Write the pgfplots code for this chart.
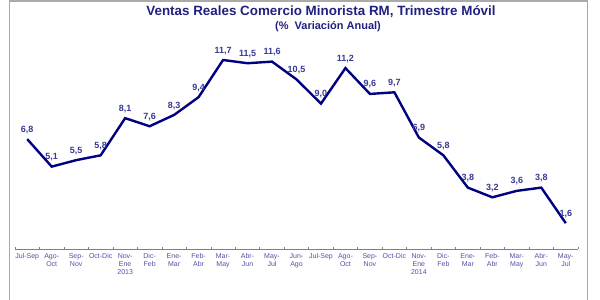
\documentclass[border=0pt]{standalone}
\usepackage{pgfplots}
\pgfplotsset{compat=1.18}
\usepackage{fontspec}
\setmainfont{Liberation Sans}
\definecolor{navyline}{RGB}{0,0,128}
\definecolor{titlecol}{RGB}{32,32,128}
\definecolor{lblcol}{RGB}{56,56,150}
\definecolor{tickcol}{RGB}{80,80,170}
\definecolor{framecol}{RGB}{170,170,170}
\pgfplotstableread{
x y
0 6.8
1 5.1
2 5.5
3 5.8
4 8.1
5 7.6
6 8.3
7 9.4
8 11.7
9 11.5
10 11.6
11 10.5
12 9.0
13 11.2
14 9.6
15 9.7
16 6.9
17 5.8
18 3.8
19 3.2
20 3.6
21 3.8
22 1.6
}\ventas
\begin{document}
\begin{tikzpicture}
\useasboundingbox (0pt,0pt) rectangle (600pt,-300pt);
\draw[framecol,line width=1.5pt] (9.5pt,-300pt) -- (9.5pt,-1pt) -- (587.5pt,-1pt) -- (587.5pt,-300pt);
\node[font=\fontsize{13.4}{15}\selectfont\bfseries,text=titlecol] at (321pt,-12pt) {Ventas Reales Comercio Minorista RM, Trimestre Móvil};
\node[font=\fontsize{11}{13}\selectfont\bfseries,text=titlecol] at (328pt,-26.5pt) {(\%\ \ Variación Anual)};
\begin{axis}[
  at={(15pt,-249pt)}, anchor=south west,
  scale only axis, width=563pt, height=210pt,
  xmin=-0.5, xmax=22.5, ymin=0, ymax=13,
  axis y line=none, axis x line*=bottom,
  x axis line style={draw=gray, line width=0.8pt, -},
  xtick={0,...,22},
  xticklabels={Jul-Sep,Ago-\\Oct,Sep-\\Nov,Oct-Dic,Nov-\\Ene\\2013,Dic-\\Feb,Ene-\\Mar,Feb-\\Abr,Mar-\\May,Abr-\\Jun,May-\\Jul,Jun-\\Ago,Jul-Sep,Ago-\\Oct,Sep-\\Nov,Oct-Dic,Nov-\\Ene\\2014,Dic-\\Feb,Ene-\\Mar,Feb-\\Abr,Mar-\\May,Abr-\\Jun,May-\\Jul},
  major tick length=0pt,
  minor xtick={-0.5,0.5,...,22.5},
  minor tick length=2.5pt,
  minor tick style={draw=gray, line width=0.6pt},
  xticklabel style={font=\fontsize{7}{8}\selectfont, text=tickcol, align=center, anchor=north, yshift=-1pt},
  /pgf/number format/assume math mode=true,
  clip=false,
  nodes near coords,
  every node near coord/.append style={font=\fontsize{9}{10}\selectfont\bfseries, text=lblcol, anchor=south, yshift=1pt},
  nodes near coords={\pgfmathprintnumber[fixed,fixed zerofill,precision=1,use comma,assume math mode=true]{\pgfplotspointmeta}},
]
\addplot[navyline, line width=2.4pt, mark=none, line join=miter] table[x=x,y=y] {\ventas};
\end{axis}
\end{tikzpicture}
\end{document}
